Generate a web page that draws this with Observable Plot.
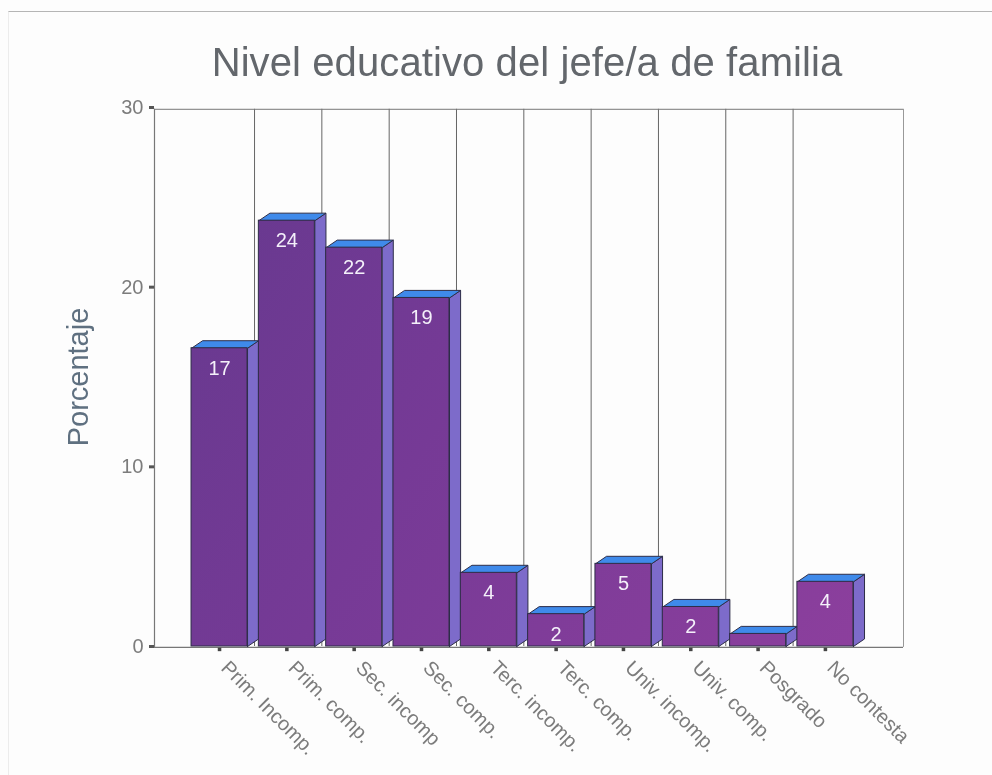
<!DOCTYPE html>
<html><head><meta charset="utf-8">
<script src="https://cdn.jsdelivr.net/npm/d3@7"></script>
<script src="https://cdn.jsdelivr.net/npm/@observablehq/plot@0.6"></script>
<style>
html,body{margin:0;padding:0;background:#fdfdfd;width:992px;height:775px;overflow:hidden}
#sheet{position:absolute;left:8px;top:11px;width:984px;height:764px;border-top:1px solid #b5b5b5;border-left:1px solid #ececec;box-sizing:border-box}
#title{position:absolute;left:0;width:992px;top:38px;padding-left:62px;box-sizing:border-box;text-align:center;font:40px "Liberation Sans",sans-serif;letter-spacing:.1px;color:#63676c;line-height:48px;filter:blur(.4px)}
#chart{position:absolute;left:0;top:90px}
svg{background:transparent!important;display:block;filter:blur(.45px)}
</style></head><body>
<div id="sheet"></div>
<div id="title">Nivel educativo del jefe/a de familia</div>
<div id="chart"></div>
<script>
const categories = ["Prim. Incomp.","Prim. comp.","Sec. incomp","Sec. comp.","Terc. incomp.","Terc. comp.","Univ. incomp.","Univ. comp.","Posgrado","No contesta"];
const values = [16.6,23.7,22.2,19.4,4.1,1.8,4.6,2.2,0.7,3.6];
const barLabels = ["17","24","22","19","4","2","5","2","","4"];
const yTicks = [0,10,20,30];

const half = 0.416, depthX = 0.165, depthY = 0.42;
const idx = categories.map((_, i) => i);
const fronts = idx.map(i => ({x1:i-half, x2:i+half, y:values[i]}));
const poly = (i, pts) => pts.map(([x,y]) => ({i, x, y}));
const tops = idx.flatMap(i => poly(i, [[i-half,values[i]],[i+half,values[i]],[i+half+depthX,values[i]+depthY],[i-half+depthX,values[i]+depthY],[i-half,values[i]]]));
const sides = idx.flatMap(i => poly(i, [[i+half,0],[i+half+depthX,depthY],[i+half+depthX,values[i]+depthY],[i+half,values[i]],[i+half,0]]));
const gridX = d3.range(0,9).map(i => i+0.52);
const left = -0.966, right = 10.16, ceil = 29.9, floor = -0.05;

const grad = () => {
  const s = d3.create("svg:defs");
  const g = s.append("linearGradient").attr("id","front").attr("gradientUnits","userSpaceOnUse")
    .attr("x1",190).attr("y1",130).attr("x2",860).attr("y2",556);
  g.append("stop").attr("offset","0%").attr("stop-color","#67398f");
  g.append("stop").attr("offset","40%").attr("stop-color","#763a96");
  g.append("stop").attr("offset","100%").attr("stop-color","#8c3f9d");
  return s.node();
};

const plot = Plot.plot({
  width: 992, height: 685,
  marginLeft: 154, marginRight: 89, marginTop: 17, marginBottom: 129,
  style: {background:"transparent"},
  x: {type:"linear", domain:[left,right], axis:null},
  y: {type:"linear", domain:[0,30], axis:null},
  marks: [
    grad,
    Plot.ruleX(gridX, {y1:0, y2:ceil, stroke:"#666", strokeWidth:1}),
    Plot.ruleX([left], {y1:floor, y2:ceil, stroke:"#777", strokeWidth:1.2}),
    Plot.ruleX([right], {y1:floor, y2:ceil, stroke:"#999", strokeWidth:1}),
    Plot.ruleY([ceil], {x1:left, x2:right, stroke:"#777", strokeWidth:1}),
    Plot.ruleY([floor], {x1:left, x2:right, stroke:"#777", strokeWidth:1.2}),
    Plot.axisY({ticks:yTicks, anchor:"left", label:null, tickSize:5, tickPadding:6, strokeWidth:3, stroke:"#555", color:"#7c7c7c", fontSize:20, fontFamily:"Liberation Sans"}),
    Plot.text(["Porcentaje"], {frameAnchor:"left", rotate:-90, dx:-76, dy:0, fontSize:29, fill:"#5f7080", fontFamily:"Liberation Sans", textAnchor:"middle"}),
    Plot.dot(idx, {x:d=>d, y:floor, dy:2, r:2, symbol:"square", fill:"#444"}),
    Plot.line(sides, {x:"x", y:"y", z:"i", fill:"#7d6bca", stroke:"#2e2e48", strokeWidth:1, curve:"linear"}),
    Plot.line(tops, {x:"x", y:"y", z:"i", fill:"#3f8aea", stroke:"#2e2e48", strokeWidth:1, curve:"linear"}),
    Plot.rectY(fronts, {x1:"x1", x2:"x2", y1:0, y2:"y", fill:"url(#front)", stroke:"#2e2e48", strokeWidth:1}),
    Plot.text(idx.filter(i => barLabels[i]), {x:d=>d, y:d=>values[d], text:d=>barLabels[d], dy:20, fill:"#f4f0fa", fontSize:20, fontFamily:"Liberation Sans"}),
    Plot.text(idx, {x:d=>d, y:floor, text:d=>categories[d], rotate:45, textAnchor:"start", dx:5, dy:17, fill:"#7c7c7c", fontSize:20, fontFamily:"Liberation Sans"})
  ]
});
document.getElementById("chart").appendChild(plot);
</script>
</body></html>
